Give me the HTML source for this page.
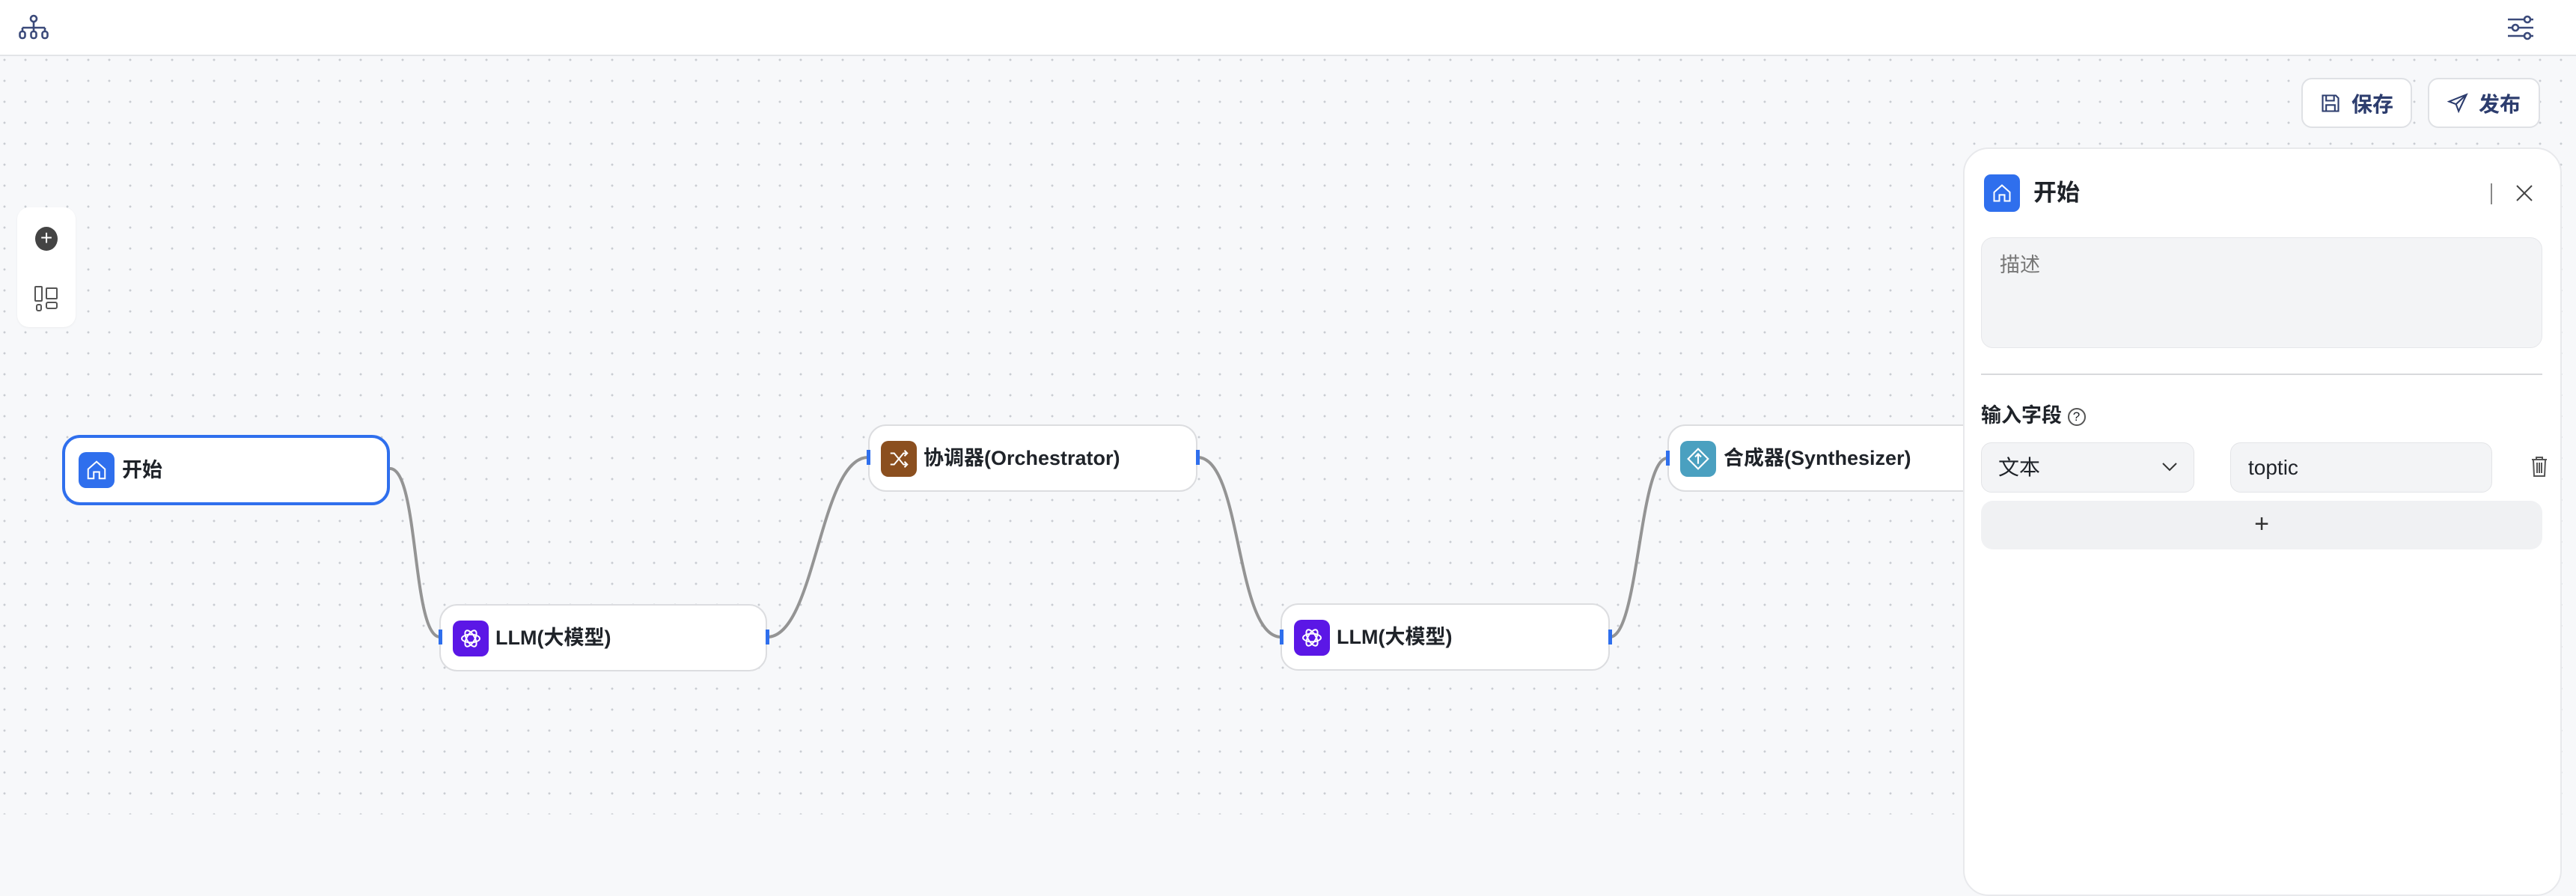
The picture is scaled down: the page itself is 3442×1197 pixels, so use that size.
<!DOCTYPE html>
<html><head><meta charset="utf-8"><style>
*{box-sizing:border-box;margin:0;padding:0}
body{width:3442px;height:1088px;overflow:hidden;position:relative;background:#f7f8fa;font-family:"Liberation Sans","Noto Sans CJK SC",sans-serif;color:#1f2329}
.canvas{position:absolute;left:0;top:76px;width:3442px;height:1012px;background-color:#f7f8fa;background-image:radial-gradient(circle,#c9ccd2 1.3px,transparent 1.6px);background-size:28px 28px;background-position:-8px -10px}
.header{position:absolute;left:0;top:0;width:3442px;height:75px;background:#fff;border-bottom:2px solid #e3e5e8}
.node{position:absolute;background:#fff;border:2px solid #dcdde0;border-radius:24px;height:90px}
.node .ic{position:absolute;left:20px;top:20px;width:48px;height:48px;border-radius:10px;display:flex;align-items:center;justify-content:center}
.node .t{position:absolute;left:78px;top:0;line-height:86px;font-size:27px;font-weight:bold;color:#1f2329;white-space:nowrap}
.h{position:absolute;width:5px;height:20px;background:#2f6fed}
.btn{position:absolute;top:104px;height:67px;background:#fff;border:2px solid #dfe1e5;border-radius:14px;display:flex;align-items:center;justify-content:center;gap:14px;font-size:28px;font-weight:bold;color:#2d3d6e}
.panel{position:absolute;left:2623px;top:197px;width:800px;height:1000px;background:#fff;border:2px solid #e8e9ec;border-radius:34px}
</style></head><body>
<div class="header">
<svg style="position:absolute;left:24px;top:19px" width="42" height="34" viewBox="0 0 42 34" fill="none" stroke="#3b4a7a" stroke-width="2.6"><circle cx="21" cy="6" r="4"/><path d="M21 10v8M6 18h30M6 18v5M21 18v5M36 18v5"/><rect x="2.5" y="23" width="7" height="9" rx="3"/><rect x="17.5" y="23" width="7" height="9" rx="3"/><rect x="32.5" y="23" width="7" height="9" rx="3"/></svg>
<svg style="position:absolute;left:3349px;top:20px" width="38" height="34" viewBox="0 0 38 34" fill="none" stroke="#3b4a7a" stroke-width="2.6"><path d="M2 6h22M32 6h4M2 17h6M16 17h20M2 28h22M32 28h4"/><circle cx="28" cy="6" r="4"/><circle cx="12" cy="17" r="4"/><circle cx="28" cy="28" r="4"/></svg>
</div>
<div class="canvas"></div>
<div style="position:absolute;left:23px;top:277px;width:78px;height:160px;background:#fff;border-radius:16px;box-shadow:0 1px 3px rgba(0,0,0,.05)">
<div style="position:absolute;left:24px;top:26px;width:30px;height:32px;border-radius:50%;background:#444;color:#fff;font-size:28px;line-height:30px;text-align:center">+</div>
<svg style="position:absolute;left:22px;top:104px" width="34" height="36" viewBox="0 0 34 36" fill="none" stroke="#555" stroke-width="2"><rect x="2" y="2" width="9" height="19" rx="1"/><rect x="17" y="4" width="14" height="14" rx="1"/><rect x="4" y="26" width="6" height="8" rx="2"/><rect x="17" y="23" width="14" height="8" rx="2"/></svg>
</div>
<svg style="position:absolute;left:0;top:0" width="3442" height="1088" fill="none" stroke="#949494" stroke-width="4">
<path d="M521 626 C560 626 550 851 588 851"/>
<path d="M1025 851 C1090 851 1095 611 1160 611"/>
<path d="M1600 611 C1660 611 1650 851 1712 851"/>
<path d="M2151 851 C2190 851 2190 612 2228 612"/>
</svg>
<div class="node" style="left:83px;top:581px;width:438px;height:94px;border:4px solid #2f6fed">
<div class="ic" style="background:#2f6fed;left:18px;top:19px"><svg width="30" height="30" viewBox="0 0 24 24" fill="none" stroke="#fff" stroke-width="1.6"><path d="M3 11 12 3l9 8v10h-6v-7H9v7H3z"/></svg></div>
<div class="t" style="left:76px;line-height:86px">开始</div></div>
<div class="node" style="left:587px;top:807px;width:438px">
<div class="ic" style="background:#5b17e6;left:16px"><svg width="32" height="32" viewBox="0 0 24 24" fill="none" stroke="#fff" stroke-width="1.5"><ellipse cx="12" cy="12" rx="9" ry="4"/><ellipse cx="12" cy="12" rx="9" ry="4" transform="rotate(60 12 12)"/><ellipse cx="12" cy="12" rx="9" ry="4" transform="rotate(120 12 12)"/></svg></div>
<div class="t" style="left:73px">LLM(大模型)</div></div>
<div class="node" style="left:1160px;top:567px;width:440px">
<div class="ic" style="background:#8b4f1f;left:15px"><svg width="30" height="30" viewBox="0 0 24 24" fill="none" stroke="#fff" stroke-width="1.6"><path d="M3 6h4l10 12h4M3 18h4L17 6h4M18 3l3 3-3 3M18 15l3 3-3 3"/></svg></div>
<div class="t" style="left:72px">协调器(Orchestrator)</div></div>
<div class="node" style="left:1711px;top:806px;width:440px">
<div class="ic" style="background:#5b17e6;left:16px"><svg width="32" height="32" viewBox="0 0 24 24" fill="none" stroke="#fff" stroke-width="1.5"><ellipse cx="12" cy="12" rx="9" ry="4"/><ellipse cx="12" cy="12" rx="9" ry="4" transform="rotate(60 12 12)"/><ellipse cx="12" cy="12" rx="9" ry="4" transform="rotate(120 12 12)"/></svg></div>
<div class="t" style="left:73px">LLM(大模型)</div></div>
<div class="node" style="left:2228px;top:567px;width:520px">
<div class="ic" style="background:#4aa0c0;left:15px"><svg width="32" height="32" viewBox="0 0 24 24" fill="none" stroke="#fff" stroke-width="1.6"><path d="M12 2 22 12 12 22 2 12z"/><path d="M12 17V8M9 10l3-3 3 3"/></svg></div>
<div class="t" style="left:73px">合成器(Synthesizer)</div></div>
<div class="h" style="left:586px;top:841px"></div><div class="h" style="left:1023px;top:841px"></div>
<div class="h" style="left:1158px;top:601px"></div><div class="h" style="left:1598px;top:601px"></div>
<div class="h" style="left:1710px;top:841px"></div><div class="h" style="left:2149px;top:841px"></div>
<div class="h" style="left:2226px;top:602px"></div>
<div class="btn" style="left:3075px;width:148px"><svg width="28" height="28" viewBox="0 0 24 24" fill="none" stroke="#2d3d6e" stroke-width="1.8"><path d="M3 3h15l3 3v15H3z"/><path d="M7 3v6h9V3M7 21v-7h10v7"/></svg>保存</div>
<div class="btn" style="left:3244px;width:150px"><svg width="28" height="28" viewBox="0 0 24 24" fill="none" stroke="#2d3d6e" stroke-width="1.8"><path d="M22 2 2 10l8 3 3 8z M10 13l12-11"/></svg>发布</div>
<div class="panel">
<div style="position:absolute;left:26px;top:34px;width:48px;height:50px;border-radius:9px;background:#2f6fed;display:flex;align-items:center;justify-content:center"><svg width="28" height="28" viewBox="0 0 24 24" fill="none" stroke="#fff" stroke-width="1.7"><path d="M3 11 12 3l9 8v10h-6v-7H9v7H3z"/></svg></div>
<div style="position:absolute;left:92px;top:34px;line-height:50px;font-size:31px;font-weight:bold">开始</div>
<div style="position:absolute;left:703px;top:46px;width:2px;height:28px;background:#888"></div>
<svg style="position:absolute;left:735px;top:46px" width="26" height="26" viewBox="0 0 26 26" stroke="#444" stroke-width="2"><path d="M3 3l20 20M23 3 3 23"/></svg>
<div style="position:absolute;left:22px;top:118px;width:750px;height:148px;background:#f3f4f6;border:1px solid #e6e7ea;border-radius:16px"><div style="position:absolute;left:24px;top:14px;font-size:27px;color:#777">描述</div></div>
<div style="position:absolute;left:22px;top:300px;width:750px;height:2px;background:#d8d9dc"></div>
<div style="position:absolute;left:22px;top:336px;font-size:27px;font-weight:bold;line-height:40px">输入字段 <span style="display:inline-block;width:24px;height:24px;border:2px solid #555;border-radius:50%;font-size:17px;line-height:20px;text-align:center;font-weight:normal;vertical-align:2px">?</span></div>
<div style="position:absolute;left:22px;top:392px;width:285px;height:67px;background:#f3f4f6;border:1px solid #e3e4e7;border-radius:14px"><span style="position:absolute;left:22px;top:0;line-height:65px;font-size:28px">文本</span><svg style="position:absolute;left:240px;top:24px" width="22" height="16" viewBox="0 0 22 16" fill="none" stroke="#333" stroke-width="2"><path d="M2 3l9 9 9-9"/></svg></div>
<div style="position:absolute;left:355px;top:392px;width:350px;height:67px;background:#f3f4f6;border:1px solid #e3e4e7;border-radius:14px"><span style="position:absolute;left:23px;top:0;line-height:65px;font-size:28px">toptic</span></div>
<svg style="position:absolute;left:756px;top:409px" width="24" height="30" viewBox="0 0 24 30" fill="none" stroke="#555" stroke-width="2"><path d="M2 6h20M8 6V3h8v3M4 6l1 22h14l1-22M9 10v14M12 10v14M15 10v14"/></svg>
<div style="position:absolute;left:22px;top:470px;width:750px;height:65px;background:#f0f1f3;border-radius:16px;text-align:center;line-height:62px;font-size:34px;color:#333">+</div>
</div>
</body></html>
